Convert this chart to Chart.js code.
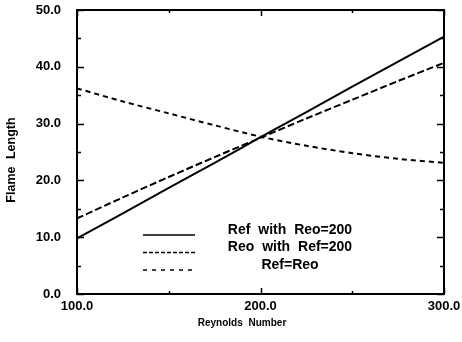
<!DOCTYPE html>
<html>
<head>
<meta charset="utf-8">
<script src="https://cdn.jsdelivr.net/npm/chart.js@4.4.1/dist/chart.umd.min.js"></script>
<style>
  html, body { margin: 0; padding: 0; background: #fff; }
  #wrap { width: 462px; height: 342px; }
</style>
</head>
<body>
<div id="wrap"><canvas id="chart" width="462" height="342"></canvas></div>
<script>
const REYNOLDS   = [100, 125, 150, 175, 200, 225, 250, 275, 300];
const REF_VARY   = [9.8, 14.2, 18.7, 23.1, 27.6, 32.0, 36.5, 40.9, 45.3];  // Ref with Reo=200
const REO_VARY   = [13.3, 17.0, 20.6, 24.1, 27.5, 30.9, 34.2, 37.5, 40.7]; // Reo with Ref=200
const EQUAL      = [36.2, 33.9, 31.8, 29.7, 27.7, 26.1, 24.8, 23.8, 23.1];  // Ref=Reo
const LABELS     = ['Ref with Reo=200', 'Reo with Ref=200', 'Ref=Reo'];
const X_TICKS    = [100, 200, 300];
const Y_TICKS    = [0, 10, 20, 30, 40, 50];

const INK = '#000';

function pts(ys) {
  return REYNOLDS.map((x, i) => ({ x, y: ys[i] }));
}

// box around the plot with inward ticks, the legend block and both axis titles
const frame = {
  id: 'frame',
  afterDraw(c) {
    const { ctx, chartArea: a, scales: { x, y } } = c;
    ctx.save();
    ctx.strokeStyle = INK;
    ctx.lineWidth = 2;
    ctx.strokeRect(a.left, a.top, a.right - a.left, a.bottom - a.top);

    ctx.lineWidth = 1.5;
    ctx.beginPath();
    for (let v = 0; v <= 50; v += 5) {
      const py = Math.round(y.getPixelForValue(v)) + 0.5;
      const len = v % 10 === 0 ? 7 : 4;
      ctx.moveTo(a.left, py); ctx.lineTo(a.left + len, py);
      ctx.moveTo(a.right, py); ctx.lineTo(a.right - len, py);
    }
    for (let v = 100; v <= 300; v += 50) {
      const px = Math.round(x.getPixelForValue(v)) + 0.5;
      const len = v % 100 === 0 ? 6 : 3;
      ctx.moveTo(px, a.bottom); ctx.lineTo(px, a.bottom - len);
      ctx.moveTo(px, a.top); ctx.lineTo(px, a.top + len);
    }
    ctx.stroke();

    // legend
    const ds = c.data.datasets;
    const sampleDash = [[], [4, 2], [4, 5]];
    ctx.font = 'bold 14px "Liberation Sans", Arial, sans-serif';
    ctx.wordSpacing = '4px';
    ctx.textAlign = 'center';
    ctx.textBaseline = 'middle';
    ctx.fillStyle = INK;
    ds.forEach((d, i) => {
      const ly = 235 + i * 17.5;
      ctx.lineWidth = 1.6;
      ctx.setLineDash(sampleDash[i]);
      ctx.beginPath();
      ctx.moveTo(143, ly); ctx.lineTo(195, ly);
      ctx.stroke();
      ctx.fillText(d.label, 290, ly - 5);
    });
    ctx.setLineDash([]);

    // axis titles
    ctx.font = 'bold 10px "Liberation Sans", Arial, sans-serif';
    ctx.wordSpacing = '3px';
    ctx.fillText('Reynolds Number', 242, 323);
    ctx.font = 'bold 12.5px "Liberation Sans", Arial, sans-serif';
    ctx.wordSpacing = '4px';
    ctx.translate(12, 160);
    ctx.rotate(-Math.PI / 2);
    ctx.fillText('Flame Length', 0, 0);
    ctx.restore();
  }
};

const tickFont = { family: '"Liberation Sans", Arial, sans-serif', size: 13, weight: 'bold' };

new Chart(document.getElementById('chart'), {
  type: 'line',
  data: {
    datasets: [
      { label: LABELS[0], data: pts(REF_VARY), borderColor: INK, borderWidth: 2, pointRadius: 0, tension: 0.3 },
      { label: LABELS[1], data: pts(REO_VARY), borderColor: INK, borderWidth: 2, borderDash: [7, 3], pointRadius: 0, tension: 0.3 },
      { label: LABELS[2], data: pts(EQUAL), borderColor: INK, borderWidth: 2, borderDash: [5, 4], pointRadius: 0, tension: 0.3 }
    ]
  },
  options: {
    responsive: false,
    animation: false,
    layout: { padding: { top: 10, right: 18, left: 0, bottom: 0 } },
    plugins: { legend: { display: false }, tooltip: { enabled: false } },
    scales: {
      x: {
        type: 'linear', min: 100, max: 300,
        afterBuildTicks: s => { s.ticks = X_TICKS.map(v => ({ value: v })); },
        afterFit: s => { s.height = 48; s.paddingLeft = 0; s.paddingRight = 0; },
        grid: { display: false, drawTicks: false },
        border: { display: false },
        ticks: { color: INK, font: tickFont, padding: 5, maxRotation: 0, callback: v => v.toFixed(1) }
      },
      y: {
        min: 0, max: 50,
        afterBuildTicks: s => { s.ticks = Y_TICKS.map(v => ({ value: v })); },
        afterFit: s => { s.width = 77; s.paddingTop = 0; s.paddingBottom = 0; },
        grid: { display: false, drawTicks: false },
        border: { display: false },
        ticks: { color: INK, font: tickFont, padding: 16, callback: v => v.toFixed(1) }
      }
    }
  },
  plugins: [frame]
});
</script>
</body>
</html>
